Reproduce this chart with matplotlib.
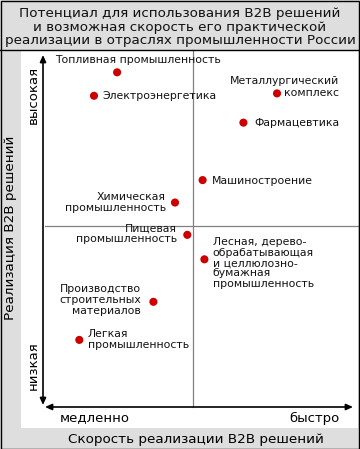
import matplotlib
matplotlib.use("Agg")
import matplotlib.pyplot as plt
from matplotlib.patches import Rectangle, FancyArrowPatch
from matplotlib.lines import Line2D

# ---- data ----
industries = [
    "Топливная промышленность",
    "Электроэнергетика",
    "Металлургический\nкомплекс",
    "Фармацевтика",
    "Машиностроение",
    "Химическая\nпромышленность",
    "Пищевая\nпромышленность",
    "Лесная, дерево-\nобрабатывающая\nи целлюлозно-\nбумажная\nпромышленность",
    "Производство\nстроительных\nматериалов",
    "Легкая\nпромышленность",
]
speed = [2.47, 1.70, 7.80, 6.68, 5.32, 4.40, 4.81, 5.38, 3.68, 1.21]
realization = [9.52, 8.83, 8.90, 8.04, 6.35, 5.69, 4.74, 4.02, 2.77, 1.65]

title = "Потенциал для использования B2B решений\nи возможная скорость его практической\nреализации в отраслях промышленности России"
xlabel = "Скорость реализации B2B решений"
ylabel = "Реализация B2B решений"
x_low, x_high = "медленно", "быстро"
y_low, y_high = "низкая", "высокая"

# label placement (pixel offsets from the dot, ha, line spacing)
label_pos = [
    (-62, 12.3, "left", 1.0),
    (8, 0, "left", 1.0),
    (62, 6.5, "right", 1.33),
    (11, -0.5, "left", 1.0),
    (9, -1, "left", 1.0),
    (-9.3, 0, "right", 1.02),
    (-10, 1.3, "right", 1.0),
    (8.4, -3.7, "left", 1.06),
    (-12.3, 1.4, "right", 1.12),
    (8.4, 0.5, "left", 1.15),
]

W, H = 360, 449
GRAY = "#dedede"
FONT = "DejaVu Sans"

fig = plt.figure(figsize=(W / 100, H / 100), dpi=100)
fig.patch.set_facecolor(GRAY)


def fx(px):
    return px / W


def fy(py):
    return 1 - py / H


# white panel
fig.patches.append(Rectangle((fx(21), fy(428)), fx(358) - fx(21), fy(50) - fy(428),
                             transform=fig.transFigure, facecolor="white", edgecolor="none", zorder=-2))
# title separator and borders
fig.lines.append(Line2D([0, 1], [fy(49.5), fy(49.5)], transform=fig.transFigure, color="black", lw=1))
fig.patches.append(Rectangle((fx(0.5), fy(448.5)), fx(358.5) - fx(0.5), fy(0.5) - fy(448.5),
                             transform=fig.transFigure, facecolor="none", edgecolor="black", lw=1, zorder=5))

fig.text(fx(180), fy(27), title, ha="center", va="center", fontsize=9.7, family=FONT,
         linespacing=1.03, color="#111111")

ax = fig.add_axes([fx(43), fy(396), 300 / W, 340 / H])
ax.set_xlim(0, 10)
ax.set_ylim(0, 10)
ax.axis("off")
ax.patch.set_alpha(0)

# quadrant lines
ax.axvline(5, ymin=(396 - 407) / 340, ymax=(396 - 50) / 340, color="#808080", lw=0.9, clip_on=False)
ax.axhline(5, xmin=(45 - 43) / 300, xmax=(358 - 43) / 300, color="#808080", lw=0.9, clip_on=False)

# axis arrows
fig.patches.append(FancyArrowPatch((fx(43), fy(405)), (fx(43), fy(55)), transform=fig.transFigure,
                                   arrowstyle="<|-|>,head_length=4,head_width=1.8", color="black", lw=1.2,
                                   shrinkA=0, shrinkB=0))
fig.patches.append(FancyArrowPatch((fx(45), fy(407)), (fx(353), fy(407)), transform=fig.transFigure,
                                   arrowstyle="<|-|>,head_length=4,head_width=1.8", color="black", lw=1.2,
                                   shrinkA=0, shrinkB=0))

ax.scatter(speed, realization, s=34, color="#cc0000", edgecolors="none", zorder=3, clip_on=False)

for name, x, y, (dx, dy, ha, ls) in zip(industries, speed, realization, label_pos):
    ax.annotate(name, (x, y), xytext=(dx, dy), textcoords="offset pixels", ha=ha, va="center",
                multialignment=ha, fontsize=7.8, family=FONT, linespacing=ls, color="#111111")

fig.text(fx(33), fy(95), y_high, rotation=90, ha="center", va="center", fontsize=9.5, family=FONT)
fig.text(fx(33), fy(366), y_low, rotation=90, ha="center", va="center", fontsize=9.5, family=FONT)
fig.text(fx(95), fy(418), x_low, ha="center", va="center", fontsize=9.5, family=FONT)
fig.text(fx(314), fy(418), x_high, ha="center", va="center", fontsize=9.5, family=FONT)
fig.text(fx(11), fy(228), ylabel, rotation=90, ha="center", va="center", fontsize=9.7, family=FONT)
fig.text(fx(196), fy(439), xlabel, ha="center", va="center", fontsize=9.7, family=FONT)

fig.savefig("out.png", dpi=100, facecolor=fig.get_facecolor())
